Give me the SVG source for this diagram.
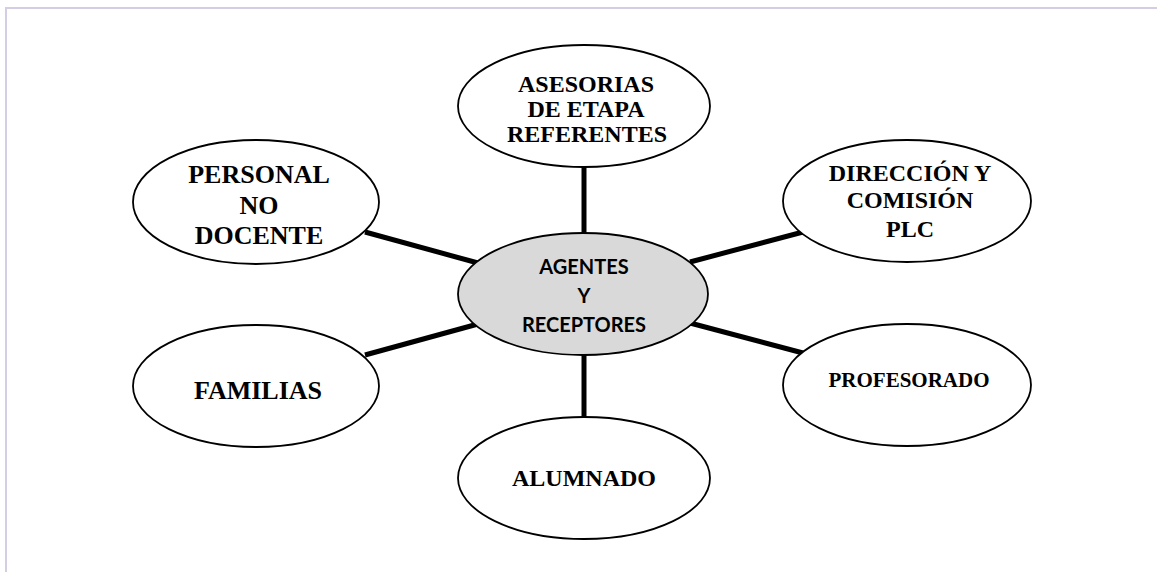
<svg xmlns="http://www.w3.org/2000/svg" width="1157" height="572" viewBox="0 0 1157 572">
<style>
.node ellipse{fill:#fff;stroke:#000;stroke-width:1.8}
.node text{font-family:"Liberation Serif","Times New Roman",serif;font-weight:bold;fill:#000;text-anchor:middle}
#center ellipse{fill:#d9d9d9}
#center text{font-family:Lato,"Liberation Sans",sans-serif;font-size:20px}
.conn line{stroke:#000;stroke-width:5}
</style>
<rect x="0" y="0" width="1157" height="572" fill="#fff"/>
<path d="M6 572 V8 H1157" fill="none" stroke="#d5cde3" stroke-width="2"/>
<g class="conn" id="connectors">
<line x1="584" y1="167" x2="584" y2="234"/>
<line x1="584" y1="354" x2="584" y2="418"/>
<line x1="365" y1="232" x2="478" y2="263"/>
<line x1="365" y1="355" x2="478" y2="324"/>
<line x1="690" y1="262" x2="803" y2="232"/>
<line x1="690" y1="323" x2="803" y2="353"/>
</g>
<g class="node" id="center">
<ellipse cx="583" cy="294" rx="125" ry="61"/>
<text x="584" y="274">AGENTES</text>
<text x="584" y="303">Y</text>
<text x="584" y="332">RECEPTORES</text>
</g>
<g class="node" id="asesorias">
<ellipse cx="584" cy="106" rx="126" ry="61"/>
<text x="586" y="92" font-size="24">ASESORIAS</text>
<text x="586" y="117" font-size="24">DE ETAPA</text>
<text x="587" y="142" font-size="24">REFERENTES</text>
</g>
<g class="node" id="personal">
<ellipse cx="256" cy="202" rx="123" ry="62"/>
<text x="259" y="183" font-size="26">PERSONAL</text>
<text x="259" y="214" font-size="26">NO</text>
<text x="259" y="244" font-size="26">DOCENTE</text>
</g>
<g class="node" id="direccion">
<ellipse cx="907" cy="201" rx="124" ry="61"/>
<text x="910" y="181" font-size="24">DIRECCIÓN Y</text>
<text x="910" y="208" font-size="24">COMISIÓN</text>
<text x="910" y="237" font-size="24">PLC</text>
</g>
<g class="node" id="profesorado">
<ellipse cx="907" cy="385" rx="124" ry="61"/>
<text x="909" y="387" font-size="21">PROFESORADO</text>
</g>
<g class="node" id="familias">
<ellipse cx="256" cy="386" rx="123" ry="61"/>
<text x="258" y="399" font-size="26">FAMILIAS</text>
</g>
<g class="node" id="alumnado">
<ellipse cx="584" cy="478" rx="126" ry="61"/>
<text x="584" y="486" font-size="24">ALUMNADO</text>
</g>
</svg>
